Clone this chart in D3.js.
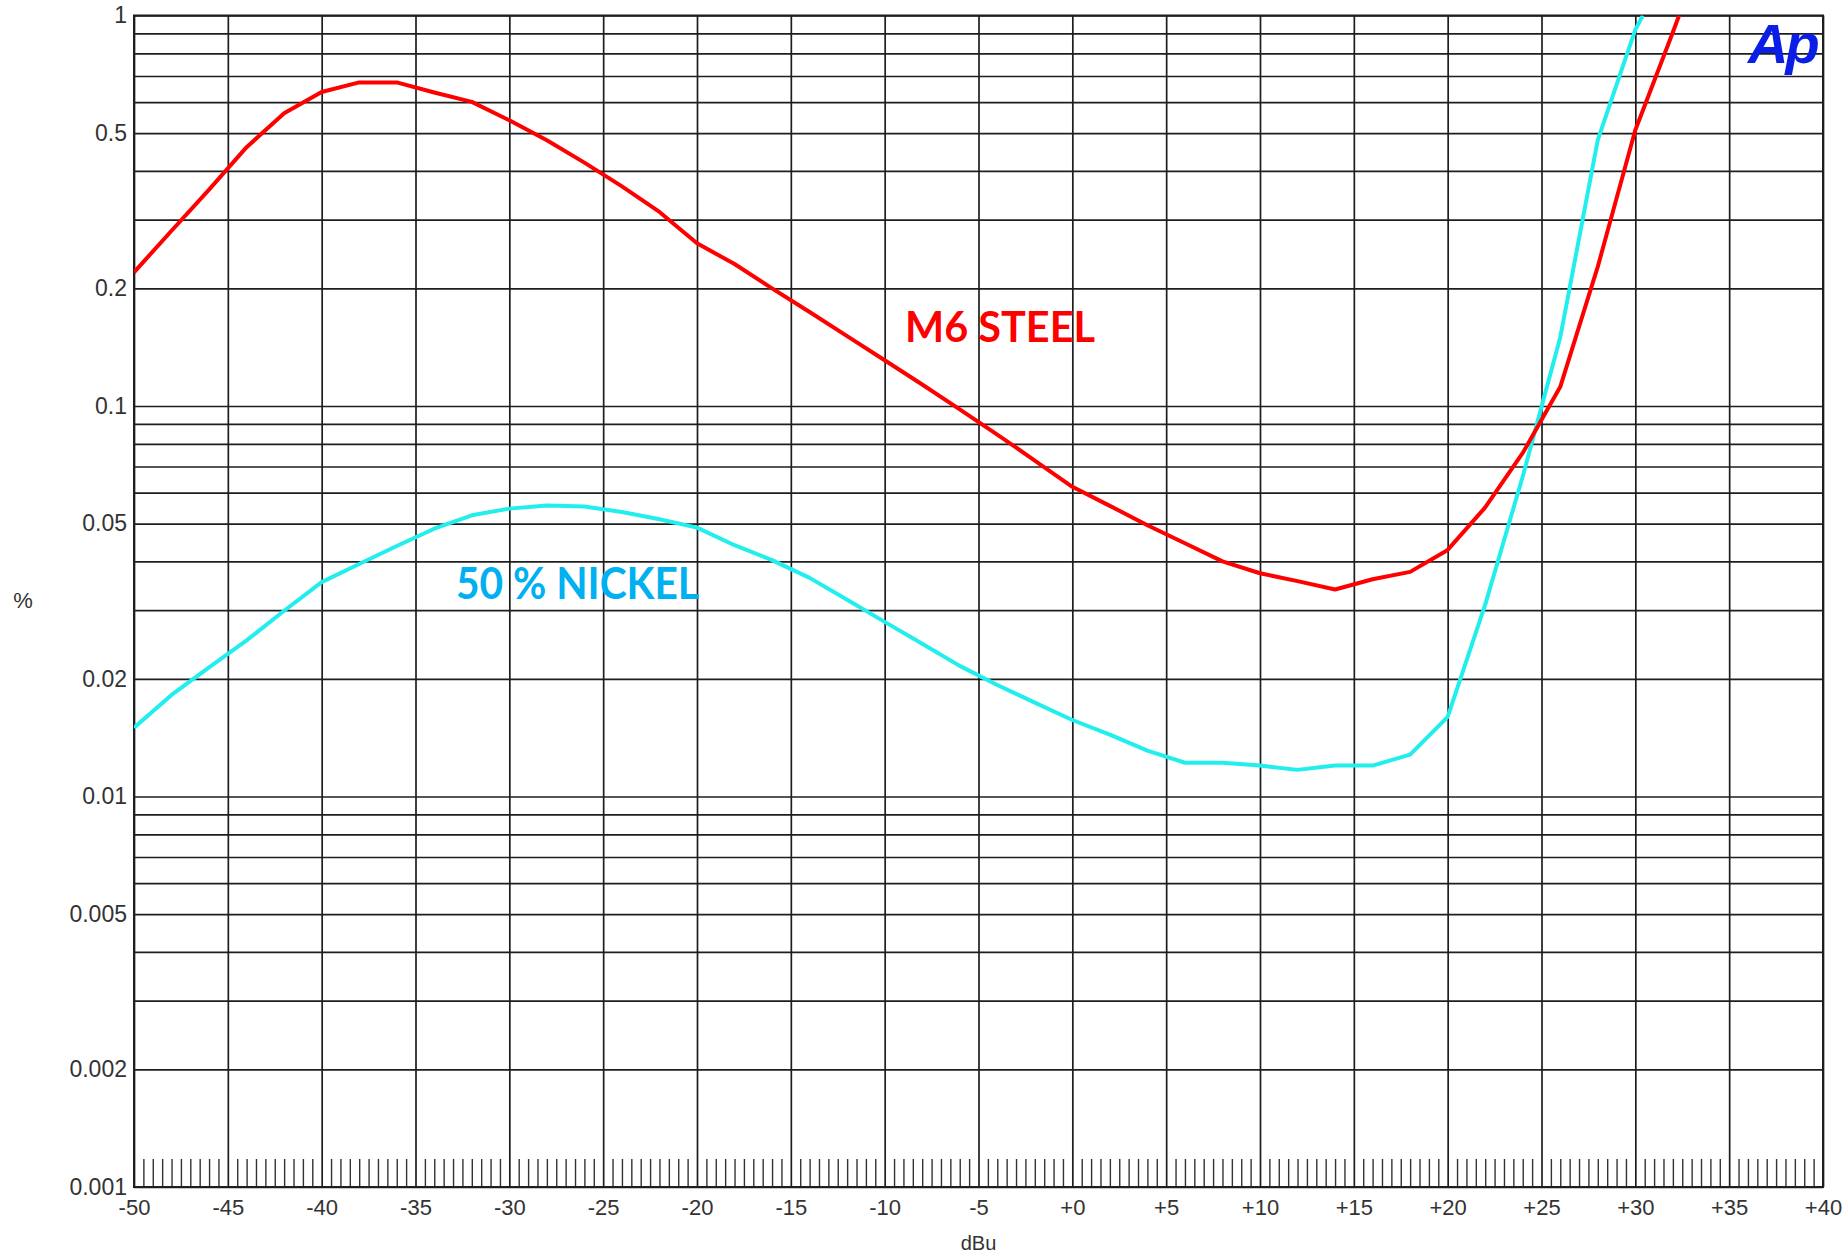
<!DOCTYPE html>
<html>
<head>
<meta charset="utf-8">
<script src="https://cdn.jsdelivr.net/npm/d3@7"></script>
<style>
	body { margin: 0; background: #fff; }
	svg { display: block; }
	.axis text { font-family: "Liberation Sans", Arial, sans-serif; fill: #333; }
</style>
</head>
<body>
<svg id="svg-thd" width="1842" height="1257"></svg>
<script>
// level sweep (dBu) for each curve
var dbuSteel = [-50, -48, -46, -44, -42, -40, -38, -36, -34, -32, -30, -28, -26, -24, -22, -20, -18, -16, -14, -12,
	-10, -8, -6, -4, -2, 0, 2, 4, 6, 8, 10, 12, 14, 16, 18, 20, 22, 24, 26, 28, 30, 32, 32.33];
var thdSteel = [0.220, 0.281, 0.358, 0.460, 0.562, 0.637, 0.674, 0.674, 0.635, 0.601, 0.539, 0.479, 0.420, 0.365, 0.314, 0.261, 0.231, 0.200, 0.174, 0.151,
	0.131, 0.1135, 0.098, 0.0845, 0.0725, 0.0621, 0.0555, 0.0495, 0.0445, 0.0400, 0.0373, 0.0356, 0.0339, 0.0360, 0.0376, 0.0428, 0.0550, 0.0758, 0.112, 0.2275, 0.509, 0.906, 1.0];

var dbuNickel = [-50, -48, -46, -44, -42, -40, -38, -36, -34, -32, -30, -28, -26, -24, -22, -20, -18, -16, -14, -12,
	-10, -8, -6, -4, -2, 0, 2, 4, 6, 8, 10, 12, 14, 16, 18, 20, 22, 24, 26, 28, 30, 30.4];
var thdNickel = [0.0150, 0.0182, 0.0214, 0.0251, 0.0299, 0.0354, 0.0394, 0.0438, 0.0485, 0.0525, 0.0546, 0.0556, 0.0553, 0.0535, 0.0513, 0.0488, 0.0440, 0.0403, 0.0363, 0.0319,
	0.0280, 0.0246, 0.0216, 0.0193, 0.0174, 0.0157, 0.0144, 0.0131, 0.0122, 0.0122, 0.0120, 0.0117, 0.0120, 0.0120, 0.0128, 0.0160, 0.0310, 0.0660, 0.150, 0.480, 0.920, 1.0];

// axis ticks
var xTicks = [-50, -45, -40, -35, -30, -25, -20, -15, -10, -5, 0, 5, 10, 15, 20, 25, 30, 35, 40];
var xTickLabels = ["-50", "-45", "-40", "-35", "-30", "-25", "-20", "-15", "-10", "-5", "+0", "+5", "+10", "+15", "+20", "+25", "+30", "+35", "+40"];
var yTicks = [1, 0.5, 0.2, 0.1, 0.05, 0.02, 0.01, 0.005, 0.002, 0.001];
var yTickLabels = ["1", "0.5", "0.2", "0.1", "0.05", "0.02", "0.01", "0.005", "0.002", "0.001"];

var svg = d3.select("svg#svg-thd"),
	margin = {
		top: 15.5,
		right: 19,
		bottom: 70,
		left: 134
	},
	width = svg.attr("width") - margin.left - margin.right,
	height = svg.attr("height") - margin.top - margin.bottom,
	g = svg.append("g").attr("transform", "translate(" + margin.left + "," + margin.top + ")");

// set the ranges
var x = d3.scaleLinear().domain([-50, 40]).range([0, width]);
var y = d3.scaleLog().domain([0.001, 1]).range([height, 0]);

var gridColor = "#1e1e1e";

// horizontal grid: 1..9 per decade
g.append("g")
	.attr("class", "grid")
	.call(d3.axisLeft(y).tickValues(y.ticks()).tickSize(-width).tickFormat(""))
	.call(function (s) { s.select(".domain").remove(); })
	.selectAll("line")
	.attr("stroke", gridColor)
	.attr("stroke-width", 1.7);

// vertical grid every 5 dB
g.append("g")
	.attr("class", "grid")
	.call(d3.axisBottom(x).tickValues(xTicks).tickSize(height).tickFormat(""))
	.call(function (s) { s.select(".domain").remove(); })
	.selectAll("line")
	.attr("stroke", gridColor)
	.attr("stroke-width", 1.7);

// minor ticks along the bottom every 0.5 dB
var minor = d3.range(-50, 40, 0.5).filter(function (d) { return d % 5 != 0; });
g.append("g")
	.attr("transform", "translate(0," + height + ")")
	.call(d3.axisBottom(x).tickValues(minor).tickSize(-28).tickFormat(""))
	.call(function (s) { s.select(".domain").remove(); })
	.selectAll("line")
	.attr("stroke", "#333")
	.attr("stroke-width", 1.4);

// frame
g.append("rect")
	.attr("width", width)
	.attr("height", height)
	.attr("fill", "none")
	.attr("stroke", gridColor)
	.attr("stroke-width", 2);

// X axis labels
g.append("g")
	.attr("class", "axis")
	.attr("transform", "translate(0," + height + ")")
	.call(d3.axisBottom(x).tickValues(xTicks).tickSize(0).tickPadding(12)
		.tickFormat(function (d, i) { return xTickLabels[i]; }))
	.call(function (s) { s.select(".domain").remove(); })
	.selectAll("text")
	.attr("font-size", "22px");

// Y axis labels
g.append("g")
	.attr("class", "axis")
	.call(d3.axisLeft(y).tickValues(yTicks).tickSize(0).tickPadding(7)
		.tickFormat(function (d, i) { return yTickLabels[i]; }))
	.call(function (s) { s.select(".domain").remove(); })
	.selectAll("text")
	.attr("font-size", "23px");

svg.append("text")
	.attr("x", 23)
	.attr("y", 608)
	.attr("text-anchor", "middle")
	.attr("font-family", "Liberation Sans, Arial, sans-serif")
	.attr("font-size", "22px")
	.attr("fill", "#333")
	.text("%");

svg.append("text")
	.attr("x", margin.left + width / 2)
	.attr("y", 1250)
	.attr("text-anchor", "middle")
	.attr("font-family", "Liberation Sans, Arial, sans-serif")
	.attr("font-size", "20px")
	.attr("fill", "#333")
	.text("dBu");

// curves
var clip = svg.append("clipPath").attr("id", "plot-clip");
clip.append("rect").attr("width", width).attr("height", height);

var line = d3.line()
	.x(function (d) { return x(d[0]); })
	.y(function (d) { return y(d[1]); });

var steel = d3.zip(dbuSteel, thdSteel);
var nickel = d3.zip(dbuNickel, thdNickel);

g.append("path")
	.datum(nickel)
	.attr("clip-path", "url(#plot-clip)")
	.attr("fill", "none")
	.attr("stroke", "#22eeee")
	.attr("stroke-width", 4)
	.attr("stroke-linejoin", "round")
	.attr("d", line);

g.append("path")
	.datum(steel)
	.attr("clip-path", "url(#plot-clip)")
	.attr("fill", "none")
	.attr("stroke", "#ff0000")
	.attr("stroke-width", 4)
	.attr("stroke-linejoin", "round")
	.attr("d", line);

// curve names
svg.append("text")
	.attr("x", 905)
	.attr("y", 342)
	.attr("font-family", "Lato, 'Open Sans', sans-serif")
	.attr("font-weight", "bold")
	.attr("font-size", "42px")
	.attr("textLength", 190)
	.attr("lengthAdjust", "spacingAndGlyphs")
	.attr("fill", "#ff0000")
	.text("M6 STEEL");

svg.append("text")
	.attr("x", 456)
	.attr("y", 599)
	.attr("font-family", "Lato, 'Open Sans', sans-serif")
	.attr("font-weight", "bold")
	.attr("font-size", "43px")
	.attr("textLength", 243)
	.attr("lengthAdjust", "spacingAndGlyphs")
	.attr("fill", "#00b0f0")
	.text("50 % NICKEL");

// Ap logo
svg.append("text")
	.attr("x", 1748)
	.attr("y", 63)
	.attr("font-family", "Liberation Sans, Arial, sans-serif")
	.attr("font-weight", "bold")
	.attr("font-style", "italic")
	.attr("font-size", "56px")
	.attr("letter-spacing", "-3px")
	.attr("fill", "#0a1ee6")
	.text("Ap");
</script>
</body>
</html>
